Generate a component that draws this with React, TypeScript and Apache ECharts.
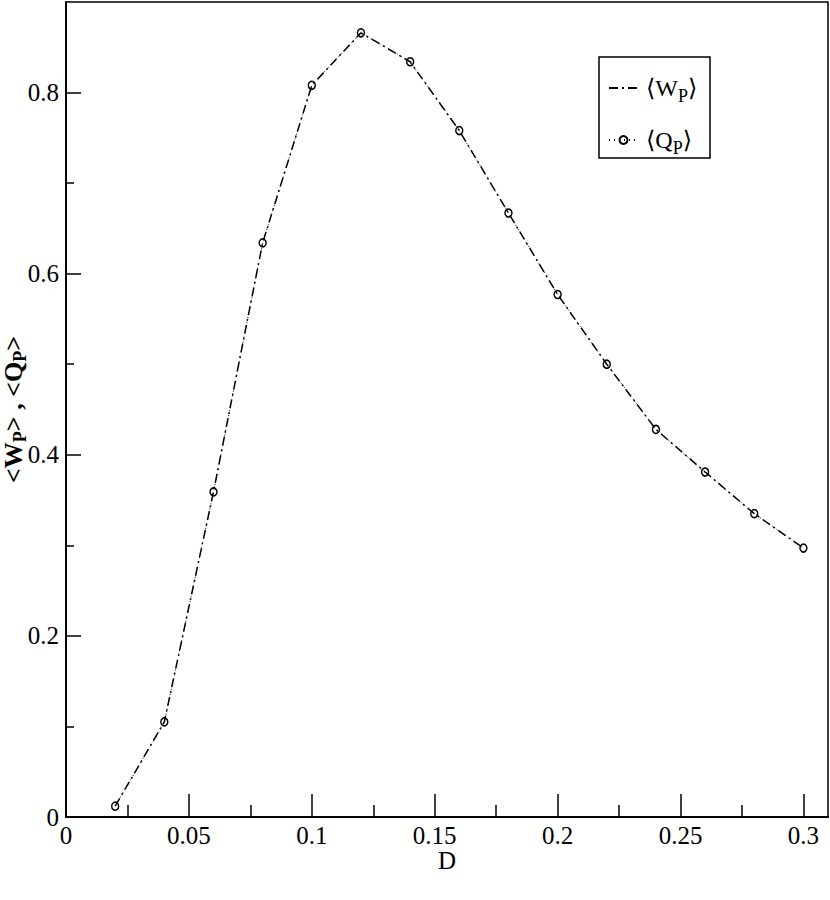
import React, { useEffect, useRef } from "react";
import * as echarts from "echarts";

// D values (x axis)
const dValues = [0.02, 0.04, 0.06, 0.08, 0.1, 0.12, 0.14, 0.16, 0.18, 0.2, 0.22, 0.24, 0.26, 0.28, 0.3];
// <W_P>
const wValues = [0.012, 0.105, 0.359, 0.634, 0.808, 0.866, 0.834, 0.758, 0.667, 0.577, 0.5, 0.428, 0.381, 0.335, 0.297];
// <Q_P>
const qValues = [0.012, 0.105, 0.359, 0.634, 0.808, 0.866, 0.834, 0.758, 0.667, 0.577, 0.5, 0.428, 0.381, 0.335, 0.297];

const xMajorTicks = [0, 0.05, 0.1, 0.15, 0.2, 0.25, 0.3];
const xMinorTicks = [0.025, 0.075, 0.125, 0.175, 0.225, 0.275];
const yMajorTicks = [0, 0.2, 0.4, 0.6, 0.8];
const yMinorTicks = [0.1, 0.3, 0.5, 0.7];

const FONT = "'Liberation Serif', 'DejaVu Serif', serif";

export default function App() {
  const ref = useRef<HTMLDivElement>(null);
  useEffect(() => {
    if (!ref.current) return;
    const chart = echarts.init(ref.current, null, { renderer: "svg" });
    const xMin = 0, xMax = 0.31, yMin = 0, yMax = 0.9;
    const labelStyle = { color: "#000", fontFamily: FONT, fontSize: 25 };
    chart.setOption({
      animation: false,
      backgroundColor: "#fff",
      grid: {
        left: 66, top: 2, right: 2, bottom: 83,
        show: true, borderColor: "#000", borderWidth: 1.5,
        outerBoundsMode: "none",
      },
      legend: {
        orient: "vertical",
        left: 608,
        top: 71,
        itemWidth: 29,
        itemHeight: 10,
        itemGap: 18,
        padding: 0,
        selectedMode: false,
        data: [
          { name: "W", itemStyle: { color: "rgba(0,0,0,0)", borderColor: "rgba(0,0,0,0)", borderWidth: 0 } },
          { name: "Q" },
        ],
        formatter: (n: string) =>
          n === "W" ? "{a|⟨W}{s|P}{b|⟩}" : "{a|⟨Q}{s|P}{b|⟩}",
        textStyle: {
          color: "#000",
          fontFamily: FONT,
          fontSize: 24,
          rich: {
            a: { fontFamily: FONT, fontSize: 24, color: "#000", lineHeight: 26, padding: [0, 0, 0, 3] },
            b: { fontFamily: FONT, fontSize: 24, color: "#000", lineHeight: 26 },
            s: { fontFamily: FONT, fontSize: 18, color: "#000", lineHeight: 16, padding: [16, 0, 0, 0] },
          },
        },
      },
      xAxis: [
        {
          type: "value", min: xMin, max: xMax, position: "bottom",
          axisLine: { show: true, onZero: false, lineStyle: { color: "#000", width: 2 } },
          axisTick: { show: true, inside: true, length: 23, customValues: xMajorTicks, lineStyle: { color: "#000", width: 1.5 } },
          axisLabel: { ...labelStyle, customValues: xMajorTicks, margin: 6 },
          splitLine: { show: false },
          name: "D",
          nameLocation: "middle",
          nameGap: 31,
          nameMoveOverlap: false,
          nameTextStyle: { color: "#000", fontFamily: FONT, fontSize: 25 },
        },
        {
          type: "value", min: xMin, max: xMax, position: "bottom",
          axisLine: { show: false },
          axisTick: { show: true, inside: true, length: 12, customValues: xMinorTicks, lineStyle: { color: "#000", width: 1.5 } },
          axisLabel: { show: false },
          splitLine: { show: false },
        },
      ],
      yAxis: [
        {
          type: "value", min: yMin, max: yMax, position: "left",
          axisLine: { show: true, onZero: false, lineStyle: { color: "#000", width: 2 } },
          axisTick: { show: true, inside: true, length: 15, customValues: yMajorTicks, lineStyle: { color: "#000", width: 1.5 } },
          axisLabel: { ...labelStyle, customValues: yMajorTicks, margin: 7 },
          splitLine: { show: false },
          name: "{a|<W}{s|P}{a|> , <Q}{s|P}{a|>}",
          nameLocation: "middle",
          nameRotate: 90,
          nameGap: 41,
          nameMoveOverlap: false,
          nameTextStyle: {
            color: "#000", fontFamily: FONT, fontSize: 26, fontWeight: "bold",
            rich: {
              a: { fontFamily: FONT, fontSize: 26, fontWeight: "bold", color: "#000", lineHeight: 24 },
              s: { fontFamily: FONT, fontSize: 18, fontWeight: "bold", color: "#000", lineHeight: 12, padding: [14, 0, 0, 0] },
            },
          },
        },
        {
          type: "value", min: yMin, max: yMax, position: "left",
          axisLine: { show: false },
          axisTick: { show: true, inside: true, length: 8, customValues: yMinorTicks, lineStyle: { color: "#000", width: 1.5 } },
          axisLabel: { show: false },
          splitLine: { show: false },
        },
      ],
      graphic: [
        {
          type: "rect",
          shape: { x: 599, y: 57, width: 111, height: 101 },
          style: { fill: "none", stroke: "#000", lineWidth: 1.5 },
          z: 100,
        },
      ],
      series: [
        {
          type: "line",
          name: "W",
          xAxisIndex: 0, yAxisIndex: 0,
          data: dValues.map((d, i) => [d, wValues[i]]),
          symbol: "none",
          lineStyle: { color: "#000", width: 1.5, type: [9, 4, 2, 4] },
          itemStyle: { color: "#000" },
          z: 2,
        },
        {
          type: "line",
          name: "Q",
          xAxisIndex: 0, yAxisIndex: 0,
          data: dValues.map((d, i) => [d, qValues[i]]),
          symbol: "circle",
          symbolSize: [7, 8],
          showAllSymbol: true,
          lineStyle: { color: "#000", width: 1, type: [1, 4] },
          itemStyle: { color: "rgba(255,255,255,0)", borderColor: "#000", borderWidth: 1.5 },
          z: 3,
        },
      ],
    });
    return () => chart.dispose();
  }, []);
  return (
    <div
      ref={ref}
      style={{ position: "absolute", left: 0, top: 0, width: 830, height: 900 }}
    />
  );
}
